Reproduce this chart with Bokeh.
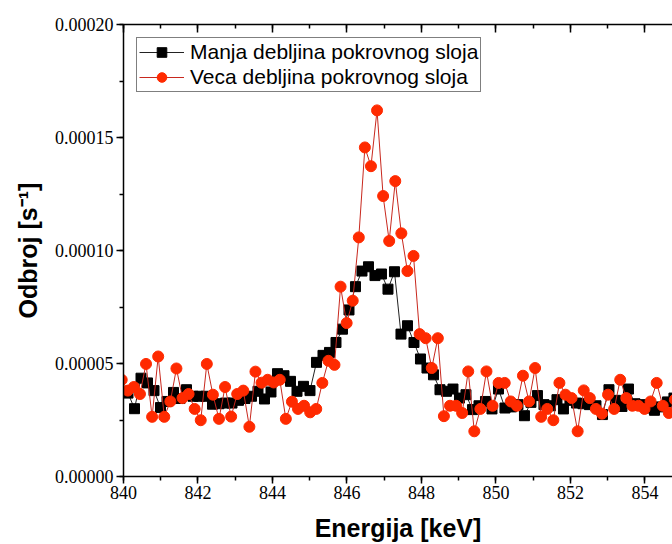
import numpy as np
from bokeh.plotting import figure
from bokeh.models import (Range1d, SingleIntervalTicker, PrintfTickFormatter,
                          LinearAxis, Legend, LegendItem)
from bokeh.embed import file_html
from bokeh.resources import INLINE

# --- data (counts in 1e-5 s^-1) ---
black_start = 840.121   # keV, first channel of series 1
black_step = 0.1745     # keV per channel
black_vals = [3.69, 3.00, 4.35, 4.14, 3.80, 3.05, 3.32, 3.72, 3.45, 3.84,
              3.55, 3.55, 3.55, 3.20, 3.22, 3.25, 3.25, 3.37, 3.45, 3.55,
              3.77, 3.43, 3.74, 4.55, 4.46, 4.21, 3.77, 3.99, 3.80, 5.05,
              5.36, 5.49, 5.93, 6.52, 7.37, 8.40, 9.09, 9.28, 8.89, 8.96,
              8.29, 9.06, 6.30, 6.67, 5.93, 5.20, 4.80, 4.50, 3.84, 3.77,
              3.87, 3.47, 3.62, 2.96, 3.13, 3.32, 2.99, 3.87, 3.03, 3.08,
              3.18, 2.69, 3.28, 3.58, 3.18, 3.13, 3.40, 2.99, 3.37, 3.25,
              3.22, 3.18, 3.13, 2.74, 3.84, 3.37, 3.10, 3.87, 3.22, 3.18,
              3.03, 2.93, 3.08, 3.30, 3.47]

red_start = 839.952
red_step = 0.16322
red_vals = [4.28, 3.80, 3.96, 3.65, 4.98, 2.64, 5.31, 2.64, 3.32, 4.78,
            3.47, 3.65, 2.99, 2.49, 4.98, 3.62, 2.55, 3.96, 2.65, 3.65,
            3.80, 2.20, 4.64, 4.15, 4.28, 4.16, 4.28, 2.55, 3.31, 2.99,
            3.13, 2.84, 2.99, 4.14, 5.12, 4.94, 8.40, 6.79, 7.78, 10.58,
            14.56, 13.73, 16.20, 12.41, 10.42, 13.07, 10.76, 9.09, 9.76, 6.30,
            6.12, 4.80, 6.12, 2.67, 3.13, 3.13, 2.81, 4.65, 2.00, 2.99,
            4.65, 3.13, 4.14, 4.14, 3.32, 3.13, 4.46, 3.32, 4.80, 2.64,
            2.99, 2.49, 4.14, 3.62, 3.47, 2.00, 3.81, 3.47, 2.99, 2.78,
            3.62, 2.99, 4.28, 3.47, 3.13, 3.13, 2.99, 3.32, 4.14, 3.13,
            2.81, 3.40]

label_black = "Manja debljina pokrovnog sloja"
label_red = "Veca debljina pokrovnog sloja"

bx = black_start + black_step * np.arange(len(black_vals))
by = np.array(black_vals) * 1e-5
rx = red_start + red_step * np.arange(len(red_vals))
ry = np.array(red_vals) * 1e-5

RED = "#ff2a00"

p = figure(width=672, height=544, output_backend="svg", toolbar_location=None,
           x_range=Range1d(840, 854.74), y_range=Range1d(0, 0.0002),
           min_border_left=123, min_border_right=0, min_border_top=24,
           min_border_bottom=67)
p.outline_line_color = None
p.grid.visible = False
p.background_fill_color = "white"
p.border_fill_color = "white"

bl = p.line(bx, by, line_color="#222222", line_width=1)
bm = p.scatter(bx, by, marker="square", size=10, fill_color="black",
               line_color="black")
rl = p.line(rx, ry, line_color="#c8281e", line_width=1)
rm = p.scatter(rx, ry, marker="circle", size=11, fill_color=RED,
               line_color=RED)

xt = SingleIntervalTicker(interval=2, num_minor_ticks=2)
yt = SingleIntervalTicker(interval=0.00005, num_minor_ticks=2)

xa = p.xaxis[0]
xa.ticker = xt
xa.axis_label = "Energija [keV]"
ya = p.yaxis[0]
ya.ticker = yt
ya.formatter = PrintfTickFormatter(format="%.5f")
ya.axis_label = "Odbroj [s⁻¹]"

for ax in (xa, ya):
    ax.axis_line_width = 1.5
    ax.axis_line_color = "black"
    ax.major_tick_line_width = 1.5
    ax.minor_tick_line_width = 1.5
    ax.major_tick_out = 7
    ax.major_tick_in = 0
    ax.minor_tick_out = 4
    ax.minor_tick_in = 0
    ax.major_label_text_font = "Liberation Serif"
    ax.major_label_text_font_size = "18px"
    ax.major_label_text_color = "black"
    ax.axis_label_text_font = "Liberation Sans"
    ax.axis_label_text_font_style = "bold"
    ax.axis_label_text_font_size = "25px"
    ax.axis_label_text_color = "black"
xa.major_label_standoff = 2
xa.axis_label_standoff = 12
ya.major_label_standoff = 3
ya.axis_label_standoff = 10

top = LinearAxis(ticker=SingleIntervalTicker(interval=2, num_minor_ticks=2))
top.axis_line_width = 1.5
top.major_tick_line_width = 1.5
top.minor_tick_line_width = 1.5
top.major_tick_in = 8
top.major_tick_out = 0
top.minor_tick_in = 4
top.minor_tick_out = 0
top.major_label_text_color = None
top.major_label_text_font_size = "1px"
top.major_label_standoff = 0
p.add_layout(top, "above")

legend = Legend(items=[LegendItem(label=label_black, renderers=[bl, bm]),
                       LegendItem(label=label_red, renderers=[rl, rm])],
                location="top_left")
legend.label_text_font = "Liberation Sans"
legend.label_text_font_size = "21px"
legend.label_text_color = "black"
legend.border_line_color = "black"
legend.border_line_width = 1
legend.background_fill_alpha = 1
legend.glyph_width = 45
legend.glyph_height = 24
legend.label_height = 24
legend.label_standoff = 6
legend.spacing = 1
legend.padding = 2
legend.margin = 13
p.add_layout(legend)

open("out.html", "w").write(file_html(p, INLINE))
